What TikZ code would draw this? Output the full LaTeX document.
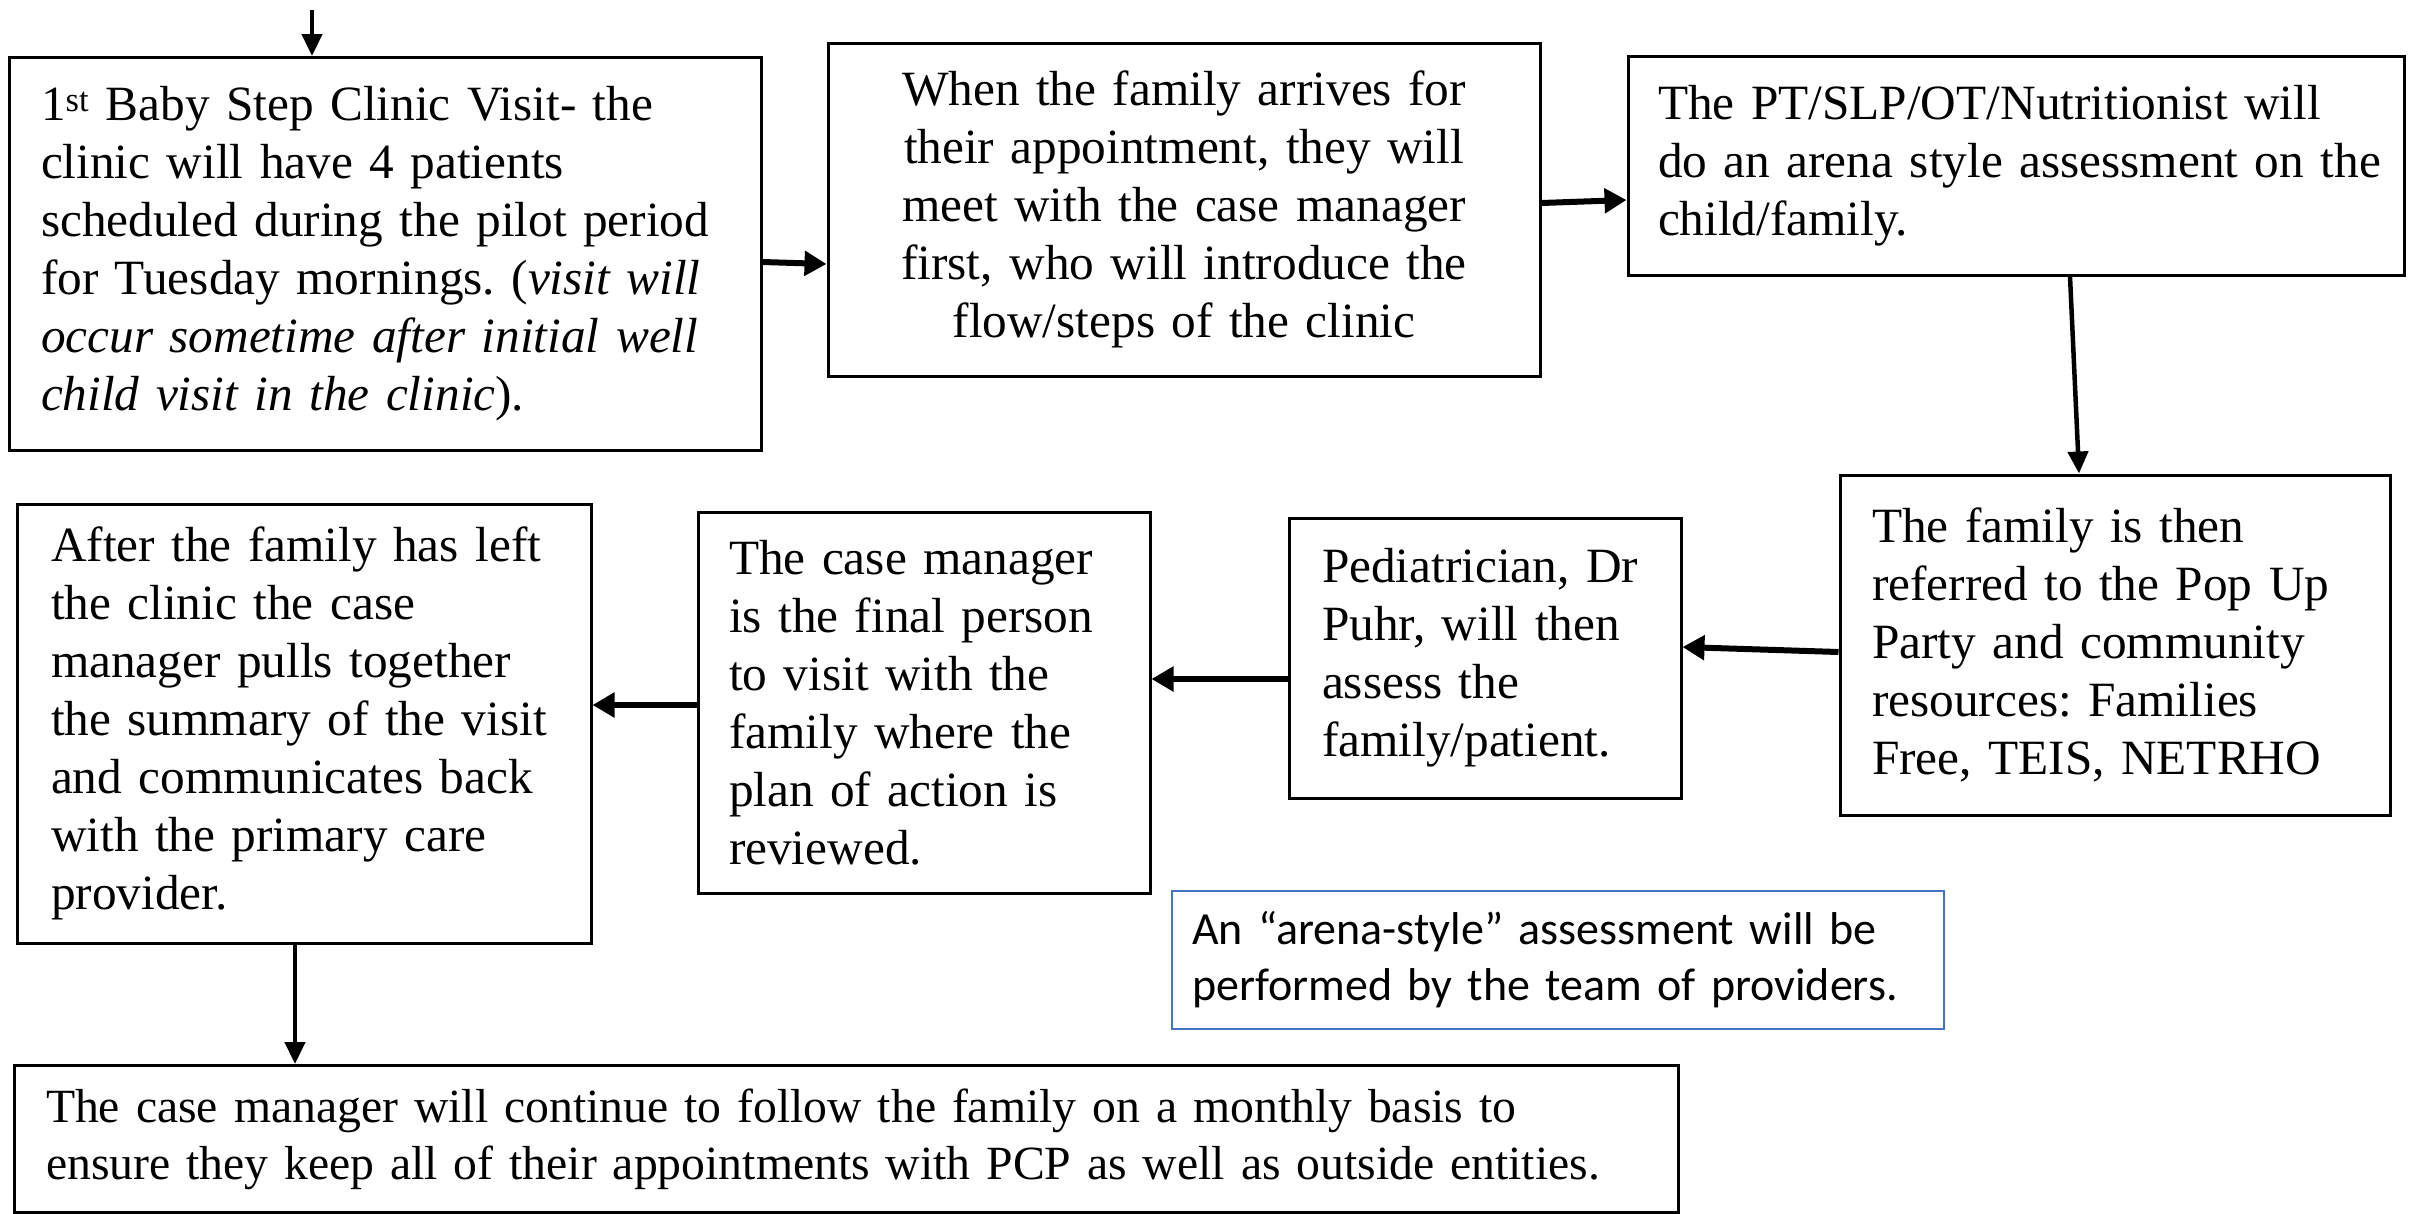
\documentclass[tikz,border=0pt]{standalone}
\usepackage{fontspec}
\setmainfont{Liberation Serif}
\newfontfamily\calfont{Carlito}
\usetikzlibrary{arrows.meta}
\definecolor{noteblue}{RGB}{68,114,196}
\newcommand\oneln[1]{\mbox{#1}}
\frenchspacing
\tikzset{
  box/.style={draw=black, line width=3pt, inner ysep=0pt, align=left, fill=white,
    font=\fontsize{49.3}{58}\selectfont\frenchspacing},
  cbox/.style={box, align=center},
  notebox/.style={draw=noteblue, line width=2.5pt, inner ysep=0pt, align=left, fill=white,
    font=\calfont\fontsize{46}{56}\selectfont\frenchspacing},
  harrow/.style={line width=6pt, -{Triangle[width=24pt,length=22pt]}},
  varrow/.style={line width=4.5pt, -{Triangle[width=20pt,length=22pt]}},
}
\begin{document}
\begin{tikzpicture}[x=1pt,y=-1pt]
\fill[white] (0,0) rectangle (2412,1213);
\useasboundingbox (0,0) rectangle (2412,1213);

\node[box, text width=688pt, inner xsep=32pt, minimum width=752pt, minimum height=393pt] (b1) at (385,254)
 {\oneln{1\textsuperscript{st} Baby Step Clinic Visit- the}\\ \oneln{clinic will have 4 patients}\\ \oneln{scheduled during the pilot period}\\ \oneln{for Tuesday mornings. (\textit{visit will}}\\ \oneln{\textit{occur sometime after initial well}}\\ \oneln{\textit{child visit in the clinic}).}};

\node[cbox, text width=672pt, inner xsep=20pt, minimum width=712pt, minimum height=333pt] (b2) at (1184,209.5)
 {\oneln{When the family arrives for}\\ \oneln{their appointment, they will}\\ \oneln{meet with the case manager}\\ \oneln{first, who will introduce the}\\ \oneln{flow/steps of the clinic}};

\node[box, text width=716pt, inner xsep=30pt, minimum width=776pt, minimum height=219pt] (b3) at (2016,165.5)
 {\oneln{The PT/SLP/OT/Nutritionist will}\\ \oneln{do an arena style assessment on the}\\ \oneln{child/family.}};

\node[box, text width=486pt, inner xsep=32pt, minimum width=550pt, minimum height=340pt] (b4) at (2115,645)
 {\oneln{The family is then}\\ \oneln{referred to the Pop Up}\\ \oneln{Party and community}\\ \oneln{resources: Families}\\ \oneln{Free, TEIS, NETRHO}};

\node[box, text width=326pt, inner xsep=33pt, minimum width=392pt, minimum height=280pt] (b5) at (1485,658)
 {\oneln{Pediatrician, Dr}\\ \oneln{Puhr, will then}\\ \oneln{assess the}\\ \oneln{family/patient.}};

\node[box, text width=390pt, inner xsep=31pt, minimum width=452pt, minimum height=381pt] (b6) at (924,702.5)
 {\oneln{The case manager}\\ \oneln{is the final person}\\ \oneln{to visit with the}\\ \oneln{family where the}\\ \oneln{plan of action is}\\ \oneln{reviewed.}};

\node[box, text width=506pt, inner xsep=34pt, minimum width=574pt, minimum height=439pt] (b7) at (304,723.5)
 {\oneln{After the family has left}\\ \oneln{the clinic the case}\\ \oneln{manager pulls together}\\ \oneln{the summary of the visit}\\ \oneln{and communicates back}\\ \oneln{with the primary care}\\ \oneln{provider.}};

\node[box, font=\fontsize{47.7}{57}\selectfont\frenchspacing, text width=1600pt, inner xsep=32pt, minimum width=1660pt, minimum height=147pt] (b8) at (846,1139)
 {\oneln{The case manager will continue to follow the family on a monthly basis to}\\ \oneln{ensure they keep all of their appointments with PCP as well as outside entities.}};

\node[notebox, text width=732pt, inner xsep=20pt, minimum width=772pt, minimum height=138pt] (note) at (1558,960)
 {\oneln{An “arena-style” assessment will be}\\ \oneln{performed by the team of providers.}};

\coordinate (top) at (312,10);
\draw[varrow] (top) -- (top |- b1.north);
\draw[harrow] ([yshift=-8pt]b1.east) -- ([yshift=-54.5pt]b2.west);
\draw[harrow] ([yshift=6.5pt]b2.east) -- ([yshift=-34.5pt]b3.west);
\draw[varrow] ([xshift=54pt]b3.south) -- ([xshift=-36pt]b4.north);
\draw[harrow] ([yshift=-7pt]b4.west) -- ([yshift=11pt]b5.east);
\draw[harrow] ([yshift=-21pt]b5.west) -- ([yshift=23.5pt]b6.east);
\draw[harrow] ([yshift=-2.5pt]b6.west) -- ([yshift=18.5pt]b7.east);
\draw[varrow] ([xshift=-9pt]b7.south) -- ([xshift=-9pt]b7.south |- b8.north);
\end{tikzpicture}
\end{document}
